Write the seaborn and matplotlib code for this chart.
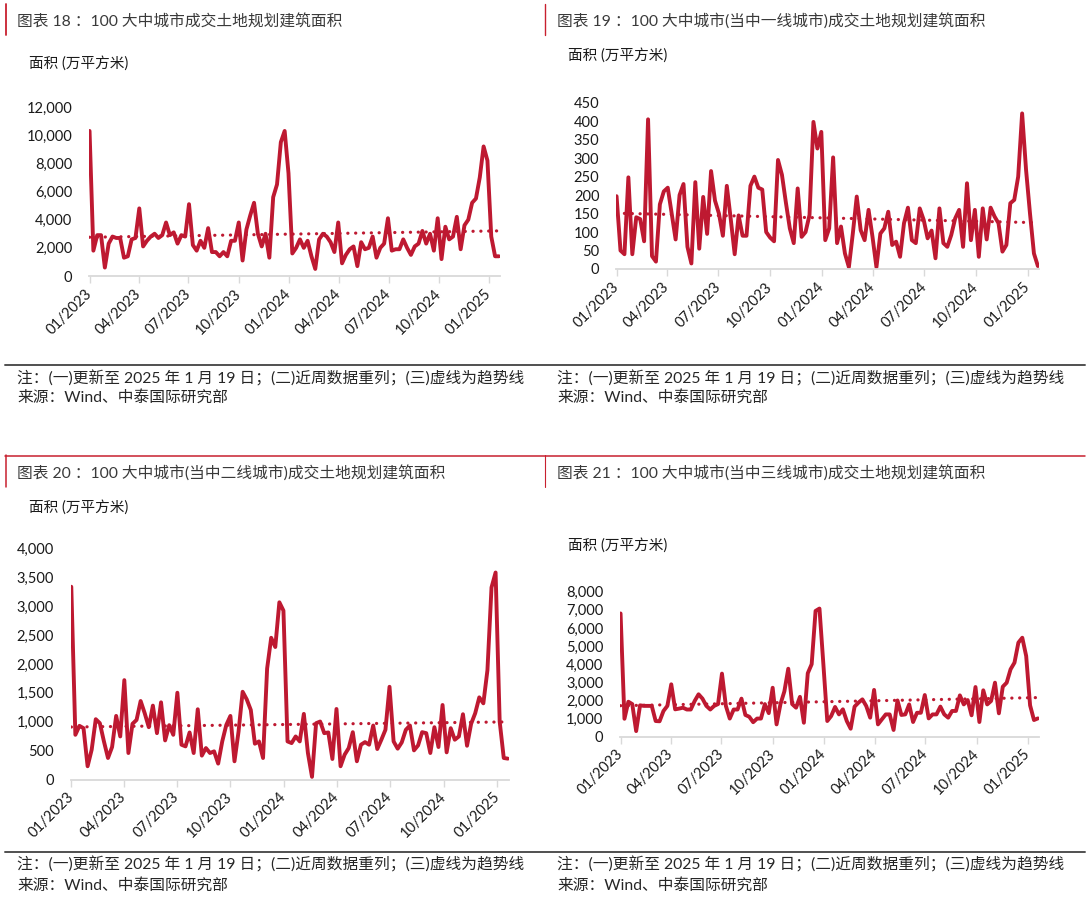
import numpy as np
import pandas as pd
import matplotlib
matplotlib.use("Agg")
import matplotlib.pyplot as plt
from matplotlib.lines import Line2D
from matplotlib.ticker import FuncFormatter, MultipleLocator
import seaborn as sns

# ---------------- data ----------------
start_date = "2023-01-01"
n_weeks = 108

total_area = [10300, 1800, 2900, 2900, 600, 2300, 2800, 2700, 2700, 1300,
              1400, 2600, 2700, 4800, 2100, 2500, 2800, 3000, 2700, 2900,
              3800, 2900, 3100, 2300, 2900, 2800, 5100, 2200, 1800, 2500,
              2000, 3400, 1700, 1700, 1400, 1700, 1400, 2500, 2500, 3800,
              1100, 3300, 4300, 5200, 3000, 2100, 3000, 1300, 5600, 6500,
              9500, 10300, 7300, 1600, 2000, 2600, 2000, 2500, 1400, 500,
              2600, 3000, 2800, 2400, 1700, 3800, 900, 1500, 1900, 2100,
              700, 2400, 1900, 2000, 2800, 1300, 2000, 2300, 4100, 1800,
              1900, 1900, 2600, 2000, 1500, 2100, 2300, 3200, 2300, 3000,
              1800, 4100, 1200, 3500, 2600, 2800, 4200, 1900, 3600, 4000,
              5200, 5500, 7000, 9200, 8200, 2800, 1400, 1400]

tier1_area = [197, 50, 40, 248, 40, 140, 135, 75, 405, 35,
              20, 175, 210, 220, 150, 80, 200, 230, 60, 15,
              235, 55, 195, 95, 265, 185, 150, 90, 225, 135,
              40, 145, 90, 90, 225, 250, 220, 215, 100, 85,
              75, 295, 255, 180, 110, 70, 218, 87, 100, 146,
              398, 326, 371, 78, 110, 302, 70, 115, 42, 5,
              96, 196, 105, 78, 160, 87, 5, 96, 110, 155,
              65, 74, 33, 124, 166, 78, 70, 164, 133, 83,
              104, 29, 164, 70, 60, 92, 137, 160, 60, 232,
              78, 160, 33, 164, 80, 166, 142, 124, 47, 65,
              178, 187, 250, 421, 268, 150, 42, 8]

tier2_area = [3335, 773, 928, 888, 229, 516, 1043, 974, 659, 372,
              562, 1100, 745, 1719, 458, 963, 1031, 1358, 1146, 905,
              1278, 802, 1335, 676, 940, 773, 1501, 602, 573, 814,
              458, 1215, 413, 544, 458, 487, 275, 659, 945, 1100,
              315, 831, 1518, 1387, 1203, 619, 659, 372, 1920, 2452,
              2292, 3066, 2922, 659, 630, 745, 659, 1135, 458, 46,
              974, 1003, 802, 814, 355, 1220, 229, 430, 544, 819,
              315, 602, 647, 602, 934, 527, 688, 860, 1604, 659,
              533, 642, 860, 934, 504, 590, 819, 802, 458, 905,
              562, 1289, 470, 888, 688, 745, 1129, 584, 963, 1146,
              1421, 1318, 1891, 3323, 3581, 1003, 372, 361]

tier3_area = [6800, 990, 1930, 1800, 310, 1730, 1700, 1700, 1700, 865,
              850, 1417, 1700, 2890, 1510, 1550, 1600, 1500, 1500, 1970,
              2340, 2100, 1700, 1500, 1700, 1800, 3480, 1700, 1000, 1500,
              1500, 2100, 1200, 1100, 800, 1000, 1000, 1800, 1300, 2700,
              680, 1800, 2500, 3750, 1800, 1600, 2200, 770, 3500, 4000,
              6940, 7070, 4000, 865, 1140, 1640, 1230, 1510, 865, 440,
              1660, 1880, 2060, 1690, 1050, 2580, 680, 957, 1230, 1230,
              370, 2000, 1200, 1230, 1780, 810, 1320, 1320, 2300, 1010,
              1230, 1230, 1660, 1230, 1050, 1420, 1420, 2280, 1780, 2020,
              1180, 2740, 810, 2560, 1780, 1970, 2980, 1290, 2760, 2980,
              3720, 4085, 5190, 5460, 4450, 1730, 920, 1010]

titles = ["图表 18 ：100 大中城市成交土地规划建筑面积",
          "图表 19 ：100 大中城市(当中一线城市)成交土地规划建筑面积",
          "图表 20 ：100 大中城市(当中二线城市)成交土地规划建筑面积",
          "图表 21 ：100 大中城市(当中三线城市)成交土地规划建筑面积"]
y_unit_label = "面积 (万平方米)"
note_text = "注：(一)更新至 2025 年 1 月 19 日；(二)近周数据重列；(三)虚线为趋势线"
source_text = "来源：Wind、中泰国际研究部"
tick_dates = pd.date_range("2023-01-01", "2025-01-01", freq="QS")
y_max = [12000, 450, 4000, 8000]
y_step = [2000, 50, 500, 1000]

# ---------------- style ----------------
sns.set_theme(style="white")
FAM = ["Lato", "Noto Sans CJK SC", "DejaVu Sans"]
plt.rcParams["font.family"] = FAM
plt.rcParams["axes.unicode_minus"] = False

W, H = 1090, 898
RED = "#BE1931"
fig = plt.figure(figsize=(W / 100, H / 100), dpi=100)
fig.patch.set_facecolor("white")


def fx(x):
    return x / W


def fy(y):
    return 1 - y / H


dates = pd.date_range(start_date, periods=n_weeks, freq="7D")

# axes boxes in pixels: left, right, top(ymax), bottom(0)
boxes = [(89, 500, 107, 276),
         (616, 1039, 102.7, 269),
         (70.7, 509, 548.3, 779.5),
         (620, 1039, 591.7, 736.7)]
series = [total_area, tier1_area, tier2_area, tier3_area]

for i, (vals, box) in enumerate(zip(series, boxes)):
    l, r, t, b = box
    ax = fig.add_axes([fx(l), fy(b), (r - l) / W, (b - t) / H])
    df = pd.DataFrame({"date": dates, "value": vals})
    idx = np.arange(len(vals))
    coef = np.polyfit(idx, df["value"].values, 1)
    df["trend"] = np.polyval(coef, idx)
    sns.lineplot(data=df, x="date", y="trend", ax=ax, color=RED, lw=2.3,
                 linestyle=(0, (0.05, 2.4)), dash_capstyle="round")
    sns.lineplot(data=df, x="date", y="value", ax=ax, color=RED, lw=2.8,
                 solid_joinstyle="round")
    ax.set_xlabel("")
    ax.set_ylabel("")
    ax.set_ylim(0, y_max[i])
    ax.set_xlim(dates[0] - pd.Timedelta(days=1), dates[-1] + pd.Timedelta(days=2))
    ax.yaxis.set_major_locator(MultipleLocator(y_step[i]))
    ax.yaxis.set_major_formatter(FuncFormatter(lambda v, p: f"{int(v):,}"))
    ax.set_xticks(tick_dates)
    ax.set_xticklabels([d.strftime("%m/%Y") for d in tick_dates],
                       rotation=45, ha="right", va="center",
                       rotation_mode="anchor")
    for s in ["top", "right", "left"]:
        ax.spines[s].set_visible(False)
    ax.spines["bottom"].set_color("#d9d9d9")
    ax.spines["bottom"].set_linewidth(1.3)
    ax.tick_params(axis="x", length=5, width=1, color="#d9d9d9", pad=6,
                   labelsize=10.5, labelcolor="#1a1a1a", bottom=True)
    ax.tick_params(axis="y", length=0, pad=12, labelsize=10.5,
                   labelcolor="#1a1a1a", left=True)
    ax.set_facecolor("none")
    ax.grid(False)

# ---------------- texts ----------------
title_pos = [(17, 22), (557, 22), (17, 474), (557, 474)]
for t, (x, y) in zip(titles, title_pos):
    fig.text(fx(x), fy(y), t, fontsize=11.3, color="#3a3a3a",
             ha="left", va="center")

ylab_pos = [(29, 63), (568, 55), (29, 507), (568, 545)]
for (x, y) in ylab_pos:
    fig.text(fx(x), fy(y), y_unit_label, fontsize=10.5, color="#1a1a1a",
             ha="left", va="center")

for (x, y1, y2) in [(17, 378, 397), (557, 378, 397), (17, 864, 885), (557, 864, 885)]:
    fig.text(fx(x), fy(y1), note_text, fontsize=11.3, color="#262626",
             ha="left", va="center")
    fig.text(fx(x), fy(y2), source_text, fontsize=11.3, color="#262626",
             ha="left", va="center")

# ---------------- frame lines ----------------
def hline(y, x0, x1, color, lw):
    fig.add_artist(Line2D([fx(x0), fx(x1)], [fy(y), fy(y)],
                          transform=fig.transFigure, color=color, lw=lw))


def vline(x, y0, y1, color, lw):
    fig.add_artist(Line2D([fx(x), fx(x)], [fy(y0), fy(y1)],
                          transform=fig.transFigure, color=color, lw=lw))


hline(365, 5, 1085, "#505050", 1.4)
hline(852, 5, 1085, "#505050", 1.4)
FRAME_RED = "#C8202F"
vline(5.5, 4, 35, FRAME_RED, 1.3)
vline(545, 4, 35, FRAME_RED, 1.0)
hline(455.5, 5, 1085, FRAME_RED, 1.1)
vline(5.5, 455, 487, FRAME_RED, 1.1)
vline(545, 455, 487, FRAME_RED, 0.8)

fig.savefig("out.png", dpi=100, facecolor="white")
